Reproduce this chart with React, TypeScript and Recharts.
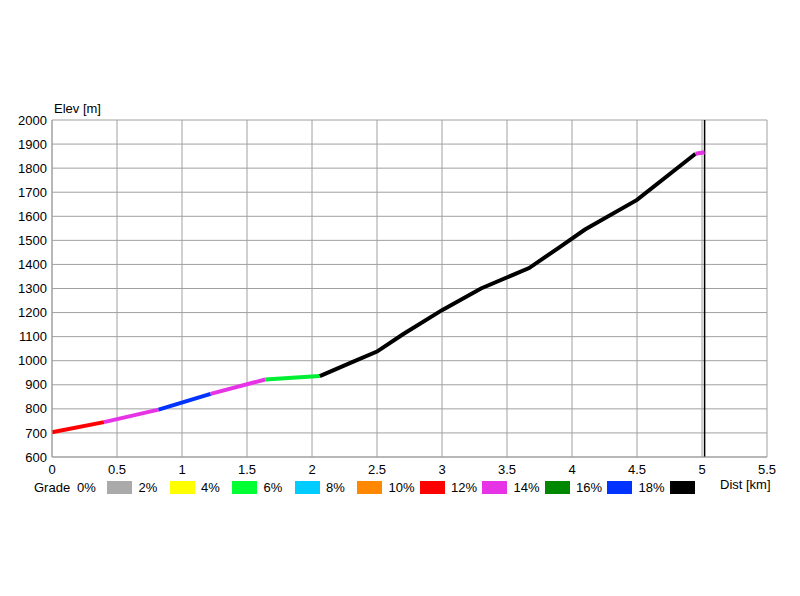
import { CartesianGrid, Line, LineChart, ReferenceLine, XAxis, YAxis } from "recharts";

const distKm = [0, 0.4, 0.82, 1.22, 1.64, 2.06, 2.3, 2.5, 2.7, 3.0, 3.3, 3.67, 3.9, 4.1, 4.5, 4.95, 5.02];
const elevM = [703, 745, 797, 862, 922, 936, 992, 1038, 1110, 1210, 1300, 1385, 1470, 1545, 1668, 1860, 1866];

// [first point index, last point index, colour]
const segments: [number, number, string][] = [
  [0, 1, "#ff0000"],
  [1, 2, "#e633e6"],
  [2, 3, "#0033ff"],
  [3, 4, "#e633e6"],
  [4, 5, "#00ee33"],
  [5, 15, "#000000"],
  [15, 16, "#e633e6"]
];

const gradeLabels = ["0%", "2%", "4%", "6%", "8%", "10%", "12%", "14%", "16%", "18%"];
const gradeColors = ["#aaaaaa", "#ffff00", "#00ff33", "#00ccff", "#ff8800", "#ff0000", "#e633e6", "#008800", "#0033ff", "#000000"];

const xTicks = [0, 0.5, 1, 1.5, 2, 2.5, 3, 3.5, 4, 4.5, 5, 5.5];
const yTicks = [600, 700, 800, 900, 1000, 1100, 1200, 1300, 1400, 1500, 1600, 1700, 1800, 1900, 2000];
const markerKm = 5.02;

const rows = distKm.map((d, i) => {
  const row: Record<string, number> = { dist: d };
  segments.forEach(([a, b], s) => {
    if (i >= a && i <= b) row["s" + s] = elevM[i];
  });
  return row;
});

const font = '"Liberation Sans", Arial, sans-serif';
const tickStyle = { fontSize: 13, fill: "#000", fontFamily: font };

export default function App() {
  return (
    <div style={{ position: "absolute", left: 0, top: 0, width: 800, height: 596, background: "#fff", fontFamily: font, fontSize: 13 }}>
      <LineChart width={800} height={596} data={rows} margin={{ top: 120, right: 33, bottom: 109, left: 5 }}>
        <CartesianGrid stroke="#a0a0a0" strokeWidth={1} />
        <XAxis
          dataKey="dist"
          type="number"
          domain={[0, 5.5]}
          ticks={xTicks}
          tickLine={false}
          tickSize={0}
          axisLine={{ stroke: "#a0a0a0" }}
          tick={tickStyle}
          tickMargin={8}
          height={30}
          interval={0}
        />
        <YAxis
          type="number"
          domain={[600, 2000]}
          ticks={yTicks}
          tickLine={false}
          tickSize={0}
          axisLine={{ stroke: "#a0a0a0" }}
          tick={tickStyle}
          tickMargin={5}
          width={47}
          interval={0}
        />
        <ReferenceLine x={markerKm} stroke="#000" strokeWidth={1.5} />
        {segments.map(([, , color], s) => (
          <Line
            key={s}
            type="linear"
            dataKey={"s" + s}
            stroke={color}
            strokeWidth={4}
            dot={false}
            activeDot={false}
            connectNulls={false}
            isAnimationActive={false}
          />
        ))}
      </LineChart>
      <div style={{ position: "absolute", left: 54, top: 101 }}>Elev [m]</div>
      <div style={{ position: "absolute", left: 720, top: 477 }}>Dist [km]</div>
      <div style={{ position: "absolute", left: 34, top: 480 }}>Grade</div>
      {gradeLabels.map((label, i) => (
        <div key={label} style={{ position: "absolute", left: i === 0 ? 77 : 77 + 62.5 * i - 1, top: 480 }}>
          {label}
        </div>
      ))}
      {gradeColors.map((c, i) => (
        <div
          key={c + i}
          style={{ position: "absolute", left: 107 + 62.5 * i, top: 481, width: 25, height: 13, background: c }}
        />
      ))}
    </div>
  );
}
